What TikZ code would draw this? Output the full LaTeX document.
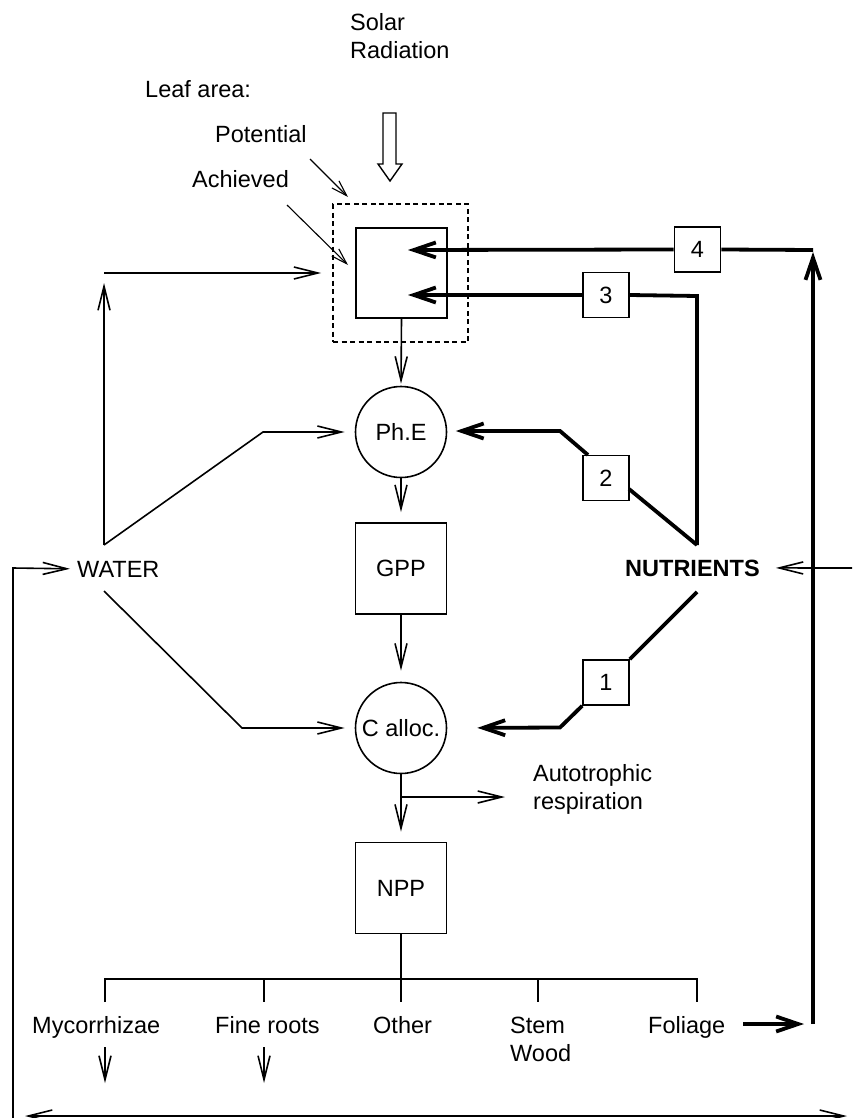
\documentclass[tikz,border=0pt]{standalone}
\usepackage{fontspec}
\setmainfont{Liberation Sans}
\usetikzlibrary{arrows.meta}
\begin{document}
\begin{tikzpicture}[x=1pt,y=-1pt,
  every node/.style={font=\fontsize{23.5}{28}\selectfont, inner sep=0pt},
  wline/.style={line width=1.6pt},
  bline/.style={line width=3.8pt},
  arr/.style={wline, -{Straight Barb[length=24pt,width=12pt]}},
  smallarr/.style={line width=1.1pt, -{Straight Barb[length=16pt,width=10pt]}},
  tarr/.style={bline, -{Straight Barb[length=22pt,width=15pt]}},
  boxed/.style={draw, line width=1.6pt, minimum width=91pt, minimum height=91pt},
  circ/.style={draw, circle, line width=1.6pt, minimum size=91pt},
  numbox/.style={draw, line width=1.6pt, minimum width=46pt, minimum height=45pt, fill=white},
  lbl/.style={anchor=base west}
]
\clip (0,0) rectangle (852,1118);

% texts
\node[lbl] (sr1) at (350,31) {Solar};
\node[lbl] (sr2) at (350,58.5) {Radiation};
\node[lbl] (leafl) at (145,98) {Leaf area:};
\node[lbl] (pot) at (215,143) {Potential};
\node[lbl] (ach) at (192,188) {Achieved};

% solar hollow arrow
\draw[line width=1.4pt, fill=white] (383,113) -- (396,113) -- (396,164) -- (402,164) -- (390,181) -- (378,164) -- (383,164) -- cycle;

% leaf area boxes
\node[draw, dashed, dash pattern=on 5pt off 3.5pt, line width=1.6pt, minimum width=135pt, minimum height=138pt] (dash) at (400.5,273) {};
\node[boxed, minimum height=90pt] (leaf) at (401.5,273) {};

\draw[smallarr] (310,159) -- (348,197);
\draw[smallarr] (287,205) -- (348,265);

% main chain
\node[circ] (phe) at (401,432) {Ph.E};
\node[boxed] (gpp) at (401,568.5) {GPP};
\node[circ] (calloc) at (401,728) {C alloc.};
\node[boxed] (npp) at (401,888) {NPP};

\draw[arr, shorten >=2pt] (leaf.south) -- (phe.north);
\draw[arr, shorten >=10pt] (phe.south) -- (gpp.north);
\draw[arr, shorten >=11pt] (gpp.south) -- (calloc.north);
\draw[arr, shorten >=10pt] (calloc.south) -- (npp.north);
\draw[arr] (401,797) -- (505,797);
\node[lbl] (resp1) at (533,781) {Autotrophic};
\node[lbl] (resp2) at (533,809) {respiration};

% water
\node[lbl] (water) at (77,577) {WATER};
\coordinate (wup) at (104,545);
\coordinate (wdn) at (104,591);
\draw[arr] (wup) -- (104,283);
\draw[arr, shorten >=11pt] (104,273) -- (dash.west |- 104,273);
\draw[arr, shorten >=10pt] (wup) -- (263,432) -- (phe.west);
\draw[arr, shorten >=10pt] (wdn) -- (242,728) -- (calloc.west);
\draw[arr, shorten >=7pt] (13,1120) -- (13,568) -- (water.west);

% nutrients
\node[lbl, font=\fontsize{23.5}{28}\selectfont\bfseries] (nutr) at (625,576) {NUTRIENTS};
\draw[arr, shorten >=16pt] (860,568) -- (nutr.east);

\node[numbox] (b4) at (697.5,249.5) {4};
\node[numbox] (b3) at (606,295) {3};
\node[numbox] (b2) at (606,478) {2};
\node[numbox] (b1) at (606,682.5) {1};

\coordinate (n3) at (697,545);
\draw[bline] (813,250) -- (b4.east);
\draw[tarr] (b4.west) -- (408,250);
\draw[bline, line join=miter] (n3) -- (697,296) -- (b3.east);
\draw[tarr] (b3.west) -- (408,295);
\draw[bline] (n3) -- (629,489);
\draw[tarr, shorten >=8.5pt] (588,455) -- (560,431) -- (phe.east |- 560,431);
\draw[bline] (697,592) -- (b1.north east);
\draw[tarr, shorten >=30pt] (b1.south west) -- (560,727.5) -- (calloc.east);

% NPP distribution
\draw[wline] (npp.south) -- (401,979);
\draw[wline] (105,1002) -- (105,979) -- (697,979) -- (697,1002);
\draw[wline] (264,979) -- (264,1002);
\draw[wline] (401,979) -- (401,1002);
\draw[wline] (538,979) -- (538,1002);

\node[lbl] (myco) at (32,1033) {Mycorrhizae};
\node[lbl] (fine) at (215,1033) {Fine roots};
\node[lbl] (other) at (373,1033) {Other};
\node[lbl] (stem) at (510,1033) {Stem};
\node[lbl] (wood) at (510,1061) {Wood};
\node[lbl] (fol) at (648,1033) {Foliage};

\draw[arr] (105,1047) -- (105,1083);
\draw[arr] (264,1047) -- (264,1083);

\draw[tarr] (743,1024) -- (804,1024);
\draw[tarr] (813,1024) -- (813,252);

\draw[wline, {Straight Barb[length=24pt,width=12pt]}-{Straight Barb[length=24pt,width=12pt]}] (25,1116) -- (847,1116);
\end{tikzpicture}
\end{document}
